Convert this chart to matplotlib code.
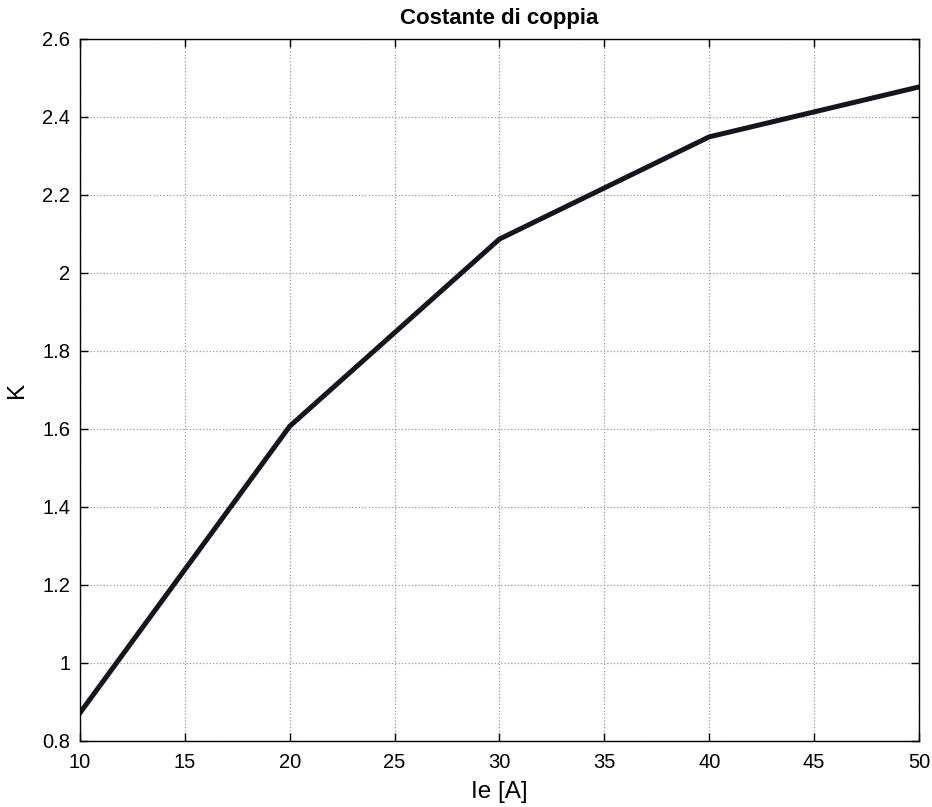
import matplotlib
matplotlib.use("Agg")
import matplotlib.pyplot as plt

plt.rcParams['font.family'] = ['Liberation Sans', 'DejaVu Sans']

ie = [10, 20, 30, 40, 50]
k = [0.872, 1.607, 2.087, 2.349, 2.477]
xticks = [10, 15, 20, 25, 30, 35, 40, 45, 50]
yticks = [0.8, 1.0, 1.2, 1.4, 1.6, 1.8, 2.0, 2.2, 2.4, 2.6]
ylabels = ['0.8', '1', '1.2', '1.4', '1.6', '1.8', '2', '2.2', '2.4', '2.6']

fig = plt.figure(figsize=(9.32, 8.07), dpi=100)
ax = fig.add_axes([0.0858, 0.0818, 0.9002, 0.8699])
ax.plot(ie, k, color='#15151f', linewidth=3.6, solid_joinstyle='miter')
ax.set_xlim(10, 50)
ax.set_ylim(0.8, 2.6)
ax.set_xticks(xticks)
ax.set_yticks(yticks)
ax.set_yticklabels(ylabels)
ax.tick_params(direction='in', top=True, right=True, length=6, width=1, labelsize=14.5, pad=7)
ax.tick_params(axis='x', pad=9)
ax.grid(True, linestyle=':', color='#999999', linewidth=0.9)
for s in ax.spines.values():
    s.set_linewidth(1.0)
ax.set_xlabel('Ie [A]', fontsize=17.5, labelpad=6)
ax.set_ylabel('K', fontsize=17.5, labelpad=10)
ax.set_title('Costante di coppia', fontsize=16, fontweight='bold', pad=11)
fig.savefig('out.png', dpi=100)
